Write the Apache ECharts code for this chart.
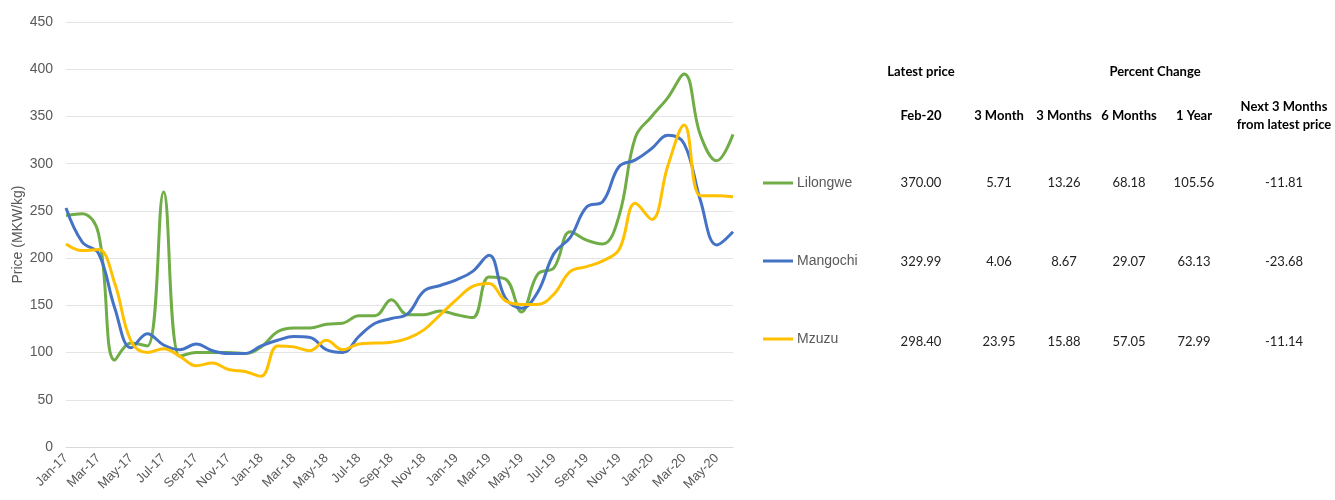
<!DOCTYPE html>
<html>
<head>
<meta charset="utf-8">
<title>Price (MKW/kg)</title>
<script src="https://cdn.jsdelivr.net/npm/echarts@6/dist/echarts.min.js"></script>
<style>
  html, body { margin: 0; padding: 0; background: #fff; }
  #chart { width: 1335px; height: 500px; }
</style>
</head>
<body>
<div id="chart"></div>
<script>
// month categories, Jan-17 .. Jun-20
const months = [
  'Jan-17', 'Feb-17', 'Mar-17', 'Apr-17', 'May-17', 'Jun-17', 'Jul-17', 'Aug-17', 'Sep-17', 'Oct-17', 'Nov-17', 'Dec-17',
  'Jan-18', 'Feb-18', 'Mar-18', 'Apr-18', 'May-18', 'Jun-18', 'Jul-18', 'Aug-18', 'Sep-18', 'Oct-18', 'Nov-18', 'Dec-18',
  'Jan-19', 'Feb-19', 'Mar-19', 'Apr-19', 'May-19', 'Jun-19', 'Jul-19', 'Aug-19', 'Sep-19', 'Oct-19', 'Nov-19', 'Dec-19',
  'Jan-20', 'Feb-20', 'Mar-20', 'Apr-20', 'May-20', 'Jun-20',
];

const lilongwe = [
  245, 247, 226, 92, 110, 107, 270, 96, 100, 100, 100, 99,
  106, 122, 126, 126, 130, 131, 139, 139, 156, 140, 140, 144,
  140, 137, 180, 178, 143, 183, 190, 228, 219, 215, 245, 328,
  350, 370, 395, 330, 303, 331,
];

const mangochi = [
  253, 217, 205, 147, 105, 120, 108, 103, 109, 102, 99, 99,
  107, 113, 117, 116, 103, 100, 117, 131, 136, 141, 165, 171,
  177, 186, 203, 158, 147, 164, 205, 222, 254, 260, 297, 304,
  316, 330, 321, 261, 214, 228,
];

const mzuzu = [
  215, 208, 209, 173, 112, 100, 104, 96, 86, 89, 82, 80,
  75, 107, 106, 102, 113, 103, 109, 110, 111, 115, 124, 140,
  156, 170, 173, 155, 151, 151, 162, 186, 191, 197, 209, 258,
  241, 298, 341, 266, 266, 265,
];

const seriesNames = ['Lilongwe', 'Mangochi', 'Mzuzu'];

// table beside the legend
const groupHeaders = ['Latest price', 'Percent Change'];
const columnHeaders = ['Feb-20', '3 Month', '3 Months', '6 Months', '1 Year', 'Next 3 Months\nfrom latest price'];
const lilongweRow = ['370.00', '5.71', '13.26', '68.18', '105.56', '-11.81'];
const mangochiRow = ['329.99', '4.06', '8.67', '29.07', '63.13', '-23.68'];
const mzuzuRow = ['298.40', '23.95', '15.88', '57.05', '72.99', '-11.14'];

const colors = ['#70AD47', '#4472C4', '#FFC000'];

const chart = echarts.init(document.getElementById('chart'));

const colX = [921, 999, 1064, 1129, 1194, 1284];
const rowY = [183, 262, 342];
const tableFont = 'Lato, "Open Sans", sans-serif';

const graphic = [];
graphic.push({
  type: 'text', x: colX[0], y: 72,
  style: { text: groupHeaders[0], fill: '#000', font: 'bold 13px ' + tableFont, align: 'center', verticalAlign: 'middle' },
});
graphic.push({
  type: 'text', x: 1155, y: 72,
  style: { text: groupHeaders[1], fill: '#000', font: 'bold 13px ' + tableFont, align: 'center', verticalAlign: 'middle' },
});
columnHeaders.forEach((h, i) => {
  graphic.push({
    type: 'text', x: colX[i], y: 116,
    style: { text: h, fill: '#000', font: 'bold 13px ' + tableFont, lineHeight: 18, align: 'center', verticalAlign: 'middle' },
  });
});
[lilongweRow, mangochiRow, mzuzuRow].forEach((row, r) => {
  row.forEach((v, i) => {
    graphic.push({
      type: 'text', x: colX[i], y: rowY[r],
      style: { text: v, fill: '#222', font: '13px ' + tableFont, align: 'center', verticalAlign: 'middle' },
    });
  });
});

const option = {
  animation: false,
  color: colors,
  grid: {
    left: 66,
    right: 602,
    top: 22,
    bottom: 53,
    containLabel: false,
    outerBoundsMode: 'none',
  },
  legend: {
    orient: 'vertical',
    left: 763,
    top: 176,
    padding: 0,
    icon: 'rect',
    itemWidth: 30,
    itemHeight: 3,
    itemGap: 64,
    data: seriesNames,
    textStyle: { color: '#595959', fontSize: 14, fontFamily: 'Arial, "Liberation Sans", sans-serif', padding: [0, 0, 0, -1] },
  },
  xAxis: {
    type: 'category',
    data: months,
    boundaryGap: false,
    axisTick: { show: false },
    axisLine: { lineStyle: { color: '#d9d9d9' } },
    axisLabel: {
      interval: 1,
      rotate: 45,
      margin: 9,
      color: '#595959',
      fontSize: 13,
      fontFamily: 'Arial, "Liberation Sans", sans-serif',
    },
  },
  yAxis: {
    type: 'value',
    min: 0,
    max: 450,
    interval: 50,
    name: 'Price (MKW/kg)',
    nameLocation: 'middle',
    nameGap: 41,
    nameTextStyle: { color: '#595959', fontSize: 14, fontFamily: 'Arial, "Liberation Sans", sans-serif' },
    axisLine: { show: false },
    axisTick: { show: false },
    axisLabel: { color: '#595959', fontSize: 14, margin: 13, fontFamily: 'Arial, "Liberation Sans", sans-serif' },
    splitLine: { lineStyle: { color: '#e4e4e4' } },
  },
  series: [
    { name: seriesNames[0], type: 'line', data: lilongwe },
    { name: seriesNames[1], type: 'line', data: mangochi },
    { name: seriesNames[2], type: 'line', data: mzuzu },
  ].map((s) => ({
    ...s,
    smooth: 0.4,
    symbol: 'none',
    lineStyle: { width: 3 },
  })),
  graphic: graphic,
};

chart.setOption(option);
</script>
</body>
</html>
